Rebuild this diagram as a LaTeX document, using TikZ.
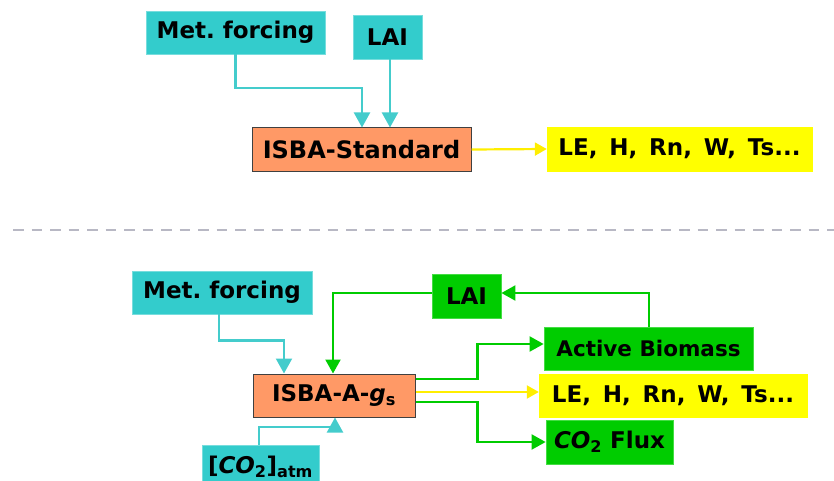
\documentclass[tikz,border=0pt]{standalone}
\usepackage{fontspec}
\setmainfont{DejaVu Sans}
\usetikzlibrary{arrows.meta}
\definecolor{tealc}{HTML}{33CCCC}
\definecolor{tealb}{HTML}{77DDDD}
\definecolor{tealline}{HTML}{44CCCC}
\definecolor{orangec}{HTML}{FF9966}
\definecolor{greenc}{HTML}{00CC00}
\definecolor{greenb}{HTML}{44DD44}
\definecolor{yellowc}{HTML}{FFFF00}
\definecolor{yellowline}{HTML}{FFEE00}
\definecolor{dashc}{HTML}{B8B8C4}
\begin{document}
\begin{tikzpicture}[x=1pt,y=-1pt,
  every node/.style={font=\bfseries\fontsize{23}{26}\selectfont, inner sep=0pt, text=black},
  tealbox/.style={fill=tealc, draw=tealb, line width=0.8pt},
  greenbox/.style={fill=greenc, draw=greenb, line width=0.8pt},
  yellowbox/.style={fill=yellowc, draw=yellowc},
  isbabox/.style={fill=orangec, draw=black!75, line width=1pt},
  tarr/.style={draw=tealline, line width=2.2pt, -{Triangle[length=15pt,width=16pt]}},
  garr/.style={draw=greenc, line width=2.2pt, -{Triangle[length=14pt,width=15pt]}},
  yarr/.style={draw=yellowline, line width=2.2pt, -{Triangle[length=12pt,width=13pt]}},
  sepline/.style={draw=dashc, line width=2.2pt, dash pattern=on 10.5pt off 8pt}
]
\useasboundingbox (0,0) rectangle (834,481);
\clip (0,0) rectangle (834,481);
% ---------- top part ----------
\node[tealbox, minimum width=179pt, minimum height=43pt] (met1) at (235.5,32.5) {Met.\ forcing};
\node[tealbox, minimum width=69pt, minimum height=44pt] (lai1) at (387.5,37) {LAI};
\node[isbabox, minimum width=219pt, minimum height=43pt, font=\bfseries\fontsize{24}{27}\selectfont] (isba1) at (361.5,149.5) {ISBA-Standard};
\node[yellowbox, minimum width=265pt, minimum height=44pt] (le1) at (679.5,149) {LE,\, H,\, Rn,\, W,\, Ts...};
\draw[tarr] (met1.south) -- ++(0,34) -| ([xshift=0.5pt]isba1.north);
\draw[tarr] ([xshift=2.5pt]lai1.south) -- ([xshift=2.5pt]lai1.south |- isba1.north);
\draw[yarr] (isba1.east) -- (le1.west);
% ---------- separator ----------
\coordinate (sepL) at (13,230);
\coordinate (sepR) at (834,230);
\draw[sepline] (sepL) -- (sepR);
% ---------- bottom part ----------
\node[tealbox, minimum width=180pt, minimum height=43pt] (met2) at (222,292.5) {Met.\ forcing};
\node[greenbox, minimum width=69pt, minimum height=44pt] (lai2) at (466.5,296) {LAI};
\node[isbabox, minimum width=162pt, minimum height=43pt] (isba2) at (334,395.5) {ISBA-A-\textit{g}\textsubscript{s}};
\node[tealbox, minimum width=117pt, minimum height=44pt] (co2atm) at (260.5,467) {[\textit{CO}\textsubscript{2}]\textsubscript{atm}};
\node[greenbox, minimum width=209pt, minimum height=43pt, font=\bfseries\fontsize{21.5}{25}\selectfont] (bio) at (648.5,348.5) {Active Biomass};
\node[yellowbox, minimum width=268pt, minimum height=43pt] (le2) at (673,395.5) {LE,\, H,\, Rn,\, W,\, Ts...};
\node[greenbox, minimum width=127pt, minimum height=44pt] (flux) at (609.5,442) {\textit{CO}\textsubscript{2} Flux};
\draw[tarr] ([xshift=-3pt]met2.south) -- ++(0,26) -| ([xshift=-50pt]isba2.north);
\draw[garr] ([yshift=3pt]lai2.west) -| ([xshift=-1pt]isba2.north);
\draw[garr] ([xshift=0.5pt]bio.north) |- ([yshift=3pt]lai2.east);
\draw[tarr] ([xshift=-1.5pt]co2atm.north) -- ++(0,-18) -| ([xshift=1pt]isba2.south);
\draw[garr] ([yshift=16.5pt]isba2.east) -- ++(62,0) |- ([yshift=4.5pt]bio.west);
\draw[yarr] ([yshift=3.5pt]isba2.east) -- ([yshift=3.5pt]le2.west);
\draw[garr] ([yshift=-6.5pt]isba2.east) -- ++(62,0) |- (flux.west);
\end{tikzpicture}
\end{document}
